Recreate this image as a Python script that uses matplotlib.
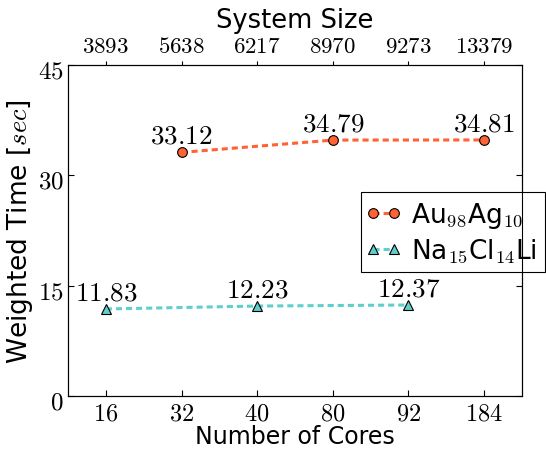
import matplotlib
matplotlib.use("Agg")
import matplotlib.pyplot as plt
from matplotlib.transforms import ScaledTranslation
from matplotlib.legend_handler import HandlerLine2D

plt.rcParams['mathtext.fontset'] = 'cm'
plt.rcParams['font.family'] = 'DejaVu Sans'

cores = ['16', '32', '40', '80', '92', '184']
system_size = ['3893', '5638', '6217', '8970', '9273', '13379']
au_idx = [1, 3, 5]
au_vals = [33.12, 34.79, 34.81]
na_idx = [0, 2, 4]
na_vals = [11.83, 12.23, 12.37]
yticks = [0, 15, 30, 45]

orange = '#FF6233'
cyan = '#5ECFCC'

fig = plt.figure(figsize=(5.46, 4.52), dpi=100)
ax = fig.add_axes([68/546, 1-397/452, (522-68)/546, (397-66)/452])

l1, = ax.plot(au_idx, au_vals, '--', color=orange, lw=2.2, dashes=(2, 1.3), marker='o', ms=7,
              mfc=orange, mec='black', mew=0.8, label=r'Au$_{98}$Ag$_{10}$', zorder=3)
l2, = ax.plot(na_idx, na_vals, '--', color=cyan, lw=2.2, dashes=(2, 1.3), marker='^', ms=7.5,
              mfc=cyan, mec='black', mew=0.8, label=r'Na$_{15}$Cl$_{14}$Li', zorder=3)

for x, v in zip(au_idx, au_vals):
    ax.annotate(r'$%.2f$' % v, (x, v), xytext=(0, 2.5), textcoords='offset points',
                ha='center', va='bottom', fontsize=19.5)
for x, v in zip(na_idx, na_vals):
    ax.annotate(r'$%.2f$' % v, (x, v), xytext=(0, 2.5), textcoords='offset points',
                ha='center', va='bottom', fontsize=19.5)

ax.set_xlim(-0.5, 5.5)
ax.set_ylim(0, 45)
ax.set_xticks(range(len(cores)))
ax.set_xticklabels([r'$%s$' % c for c in cores], fontsize=17.5)
ax.set_yticks(yticks)
ax.set_yticklabels([r'$%d$' % t for t in yticks], fontsize=18)
ax.tick_params(direction='in', length=4, right=True, top=False)
ax.tick_params(axis='x', pad=3)
ax.tick_params(axis='y', pad=3)
off = ScaledTranslation(0, -3/100, fig.dpi_scale_trans)
for lbl in ax.get_yticklabels():
    lbl.set_transform(lbl.get_transform() + off)
ax.set_xlabel('Number of Cores', fontsize=17)
ax.xaxis.set_label_coords(0.5, ((452 - 425) - 55) / 331)
ax.set_ylabel(r'Weighted Time [$sec$]', fontsize=19, labelpad=2)

ax2 = ax.twiny()
ax2.set_xlim(ax.get_xlim())
ax2.set_xticks(range(len(system_size)))
ax2.set_xticklabels([r'$%s$' % s for s in system_size], fontsize=16.5)
ax2.tick_params(direction='out', length=3, pad=3)
ax2.set_xlabel('System Size', fontsize=18.5, labelpad=5)

hmap = {l1: HandlerLine2D(numpoints=2, marker_pad=0.15),
        l2: HandlerLine2D(numpoints=2, marker_pad=0.15)}
leg = ax.legend(loc='upper left', bbox_to_anchor=(361/546, 1-193/452),
                bbox_transform=fig.transFigure, fontsize=19, numpoints=2,
                handlelength=1.1, handletextpad=0.5, borderpad=0.3,
                labelspacing=0.25, fancybox=False, framealpha=1,
                edgecolor='black', borderaxespad=0, handler_map=hmap)
leg.get_frame().set_linewidth(0.8)

fig.savefig('out.png', dpi=100)
